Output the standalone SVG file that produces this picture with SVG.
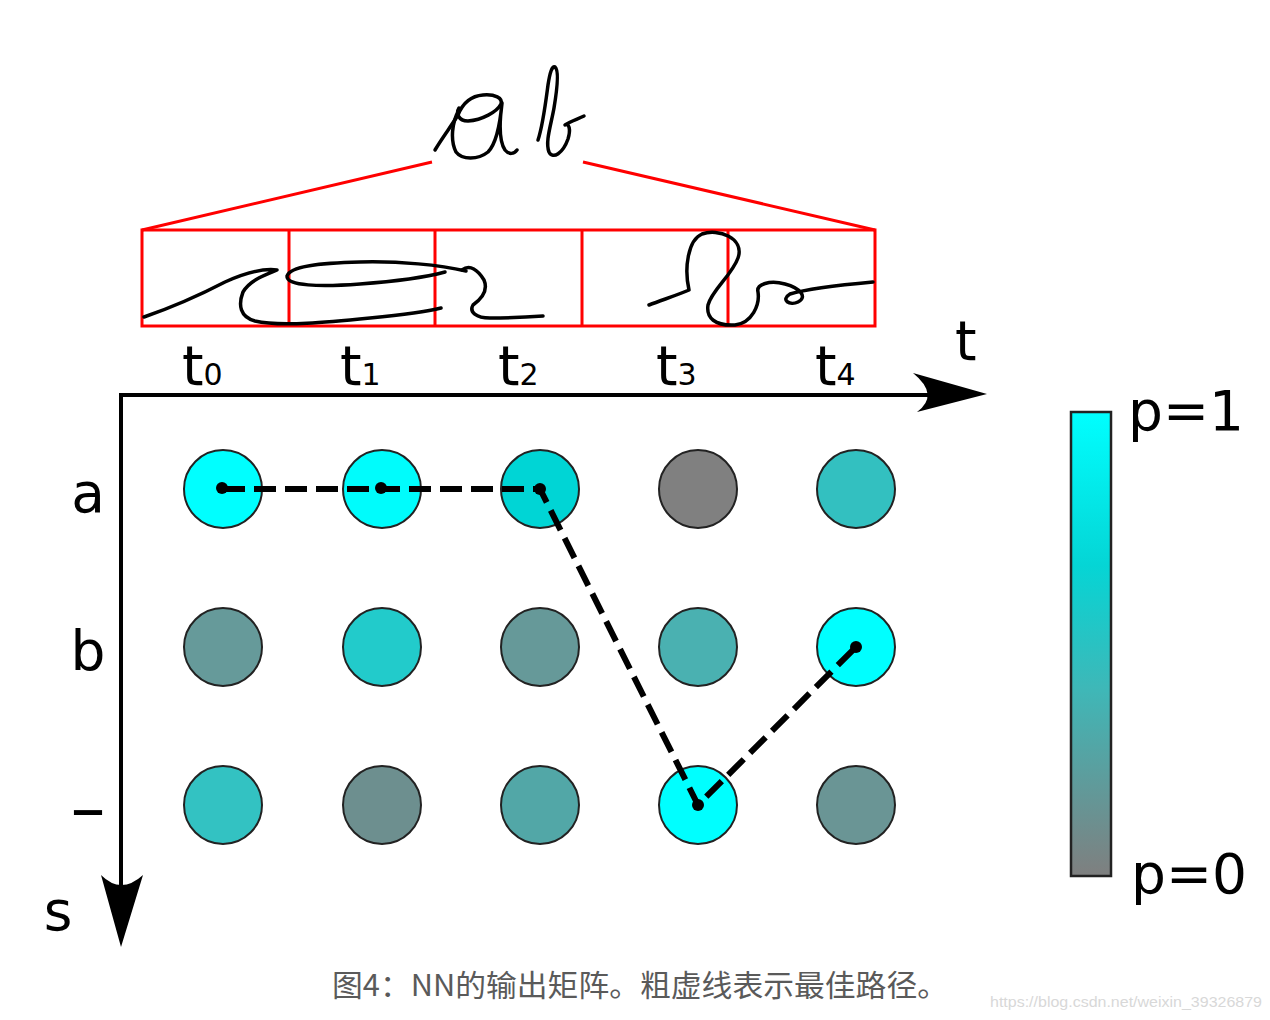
<svg xmlns="http://www.w3.org/2000/svg" width="1270" height="1020" viewBox="0 0 1270 1020">
<defs>
<linearGradient id="bar" x1="0" y1="0" x2="0" y2="1">
<stop offset="0" stop-color="#00ffff"/>
<stop offset="0.33" stop-color="#05d5d5"/>
<stop offset="0.6" stop-color="#3fb7b7"/>
<stop offset="1" stop-color="#7f7f7f"/>
</linearGradient>
</defs>
<style>
.lbl{font-family:"DejaVu Sans","Liberation Sans",sans-serif;font-size:55px;fill:#000}
.sub{font-size:30px}
.red{fill:none;stroke:#ff0000;stroke-width:3}
.ink{fill:none;stroke:#000;stroke-width:3.5;stroke-linecap:round;stroke-linejoin:round}
.node{stroke:#222;stroke-width:2}
.axis{fill:none;stroke:#000;stroke-width:4}
.path{fill:none;stroke:#000;stroke-width:6;stroke-dasharray:22 9}
.dot{fill:#000}
</style>
<rect width="1270" height="1020" fill="#fff"/>

<g id="handwriting-top">
<path class="ink" d="M435,150 C442,138 452,125 458,115 C462,105 470,96 483,95 C495,94 503,98 501,104 C497,112 482,120 468,121 C458,121 456,113 459,108"/>
<path class="ink" d="M459,110 C452,122 450,140 456,152 C462,160 478,160 488,152 C496,144 500,125 502,103 C500,118 498,140 505,150 C509,155 514,154 517,150"/>
<path class="ink" d="M538,140 C543,125 546,100 548,85 C550,72 552,66 555,67 C559,70 557,90 554,108 C551,125 545,142 549,152 C553,160 563,153 568,139 C571,129 569,123 565,125 C571,121 578,119 584,116"/>
</g>

<g id="frames">
<path class="red" d="M142,230 L432,162 M583,162 L875,230"/>
<rect class="red" x="142" y="230" width="733" height="96"/>
<path class="red" d="M289,230 V326 M435,230 V326 M582,230 V326 M728,230 V326"/>
</g>

<g id="handwriting-boxes">
<path class="ink" d="M144,317 C170,308 200,295 225,282 C245,273 262,268 277,270 C265,275 250,280 243,292 C238,305 240,317 255,321 C280,327 330,322 370,318 C400,315 425,312 441,308"/>
<path class="ink" d="M466,271 C440,265 400,261 360,262 C320,263 290,266 287,276 C286,286 320,287 360,284 C400,281 430,276 445,272"/>
<path class="ink" d="M462,270 C470,264 478,270 484,280 C489,292 480,300 473,305 C469,312 476,318 490,318 C510,318 530,317 543,316"/>
<path class="ink" d="M649,305 C665,299 680,294 689,290 C684,268 688,240 702,234 C718,228 745,238 738,258 C732,275 712,290 708,305 C706,318 715,326 735,325 C752,323 760,305 758,292 C756,284 770,280 785,284 C800,288 808,297 798,302 C790,306 780,300 790,294 C810,288 840,285 873,282"/>
</g>

<g id="axes">
<path class="axis" d="M119,395 H940"/>
<path d="M987,394 L913,373 Q940,395 917,412 Z" fill="#000"/>
<path class="axis" d="M121,393 V900"/>
<path d="M121,947 L101,875 Q121,895 143,875 Z" fill="#000"/>
</g>

<g id="labels" class="lbl">
<text x="955" y="360">t</text>
<text x="182" y="385">t<tspan class="sub">0</tspan></text>
<text x="340" y="385">t<tspan class="sub">1</tspan></text>
<text x="498" y="385">t<tspan class="sub">2</tspan></text>
<text x="656" y="385">t<tspan class="sub">3</tspan></text>
<text x="815" y="385">t<tspan class="sub">4</tspan></text>
<text x="88" y="512" text-anchor="middle">a</text>
<text x="88" y="670" text-anchor="middle">b</text>
<text x="88" y="832" text-anchor="middle" style="font-size:70px">–</text>
<text x="58" y="930" text-anchor="middle">s</text>
</g>

<g id="nodes">
<circle id="n-a0" class="node" cx="223" cy="489" r="39" fill="#00ffff"/>
<circle id="n-a1" class="node" cx="382" cy="489" r="39" fill="#00fcfc"/>
<circle id="n-a2" class="node" cx="540" cy="489" r="39" fill="#00d5d5"/>
<circle id="n-a3" class="node" cx="698" cy="489" r="39" fill="#808080"/>
<circle id="n-a4" class="node" cx="856" cy="489" r="39" fill="#33c0c0"/>
<circle id="n-b0" class="node" cx="223" cy="647" r="39" fill="#669a9a"/>
<circle id="n-b1" class="node" cx="382" cy="647" r="39" fill="#22cbcb"/>
<circle id="n-b2" class="node" cx="540" cy="647" r="39" fill="#669999"/>
<circle id="n-b3" class="node" cx="698" cy="647" r="39" fill="#4ab1b1"/>
<circle id="n-b4" class="node" cx="856" cy="647" r="39" fill="#00ffff"/>
<circle id="n-_0" class="node" cx="223" cy="805" r="39" fill="#33c2c2"/>
<circle id="n-_1" class="node" cx="382" cy="805" r="39" fill="#6d8f8f"/>
<circle id="n-_2" class="node" cx="540" cy="805" r="39" fill="#52a7a7"/>
<circle id="n-_3" class="node" cx="698" cy="805" r="39" fill="#00ffff"/>
<circle id="n-_4" class="node" cx="856" cy="805" r="39" fill="#6a9595"/>
</g>

<g id="connectors">
<path class="path" d="M223,489 L382,489 L540,489 L698,805 L856,647"/>
<circle class="dot" cx="222" cy="488" r="6"/>
<circle class="dot" cx="381" cy="488" r="6"/>
<circle class="dot" cx="540" cy="489" r="6"/>
<circle class="dot" cx="698" cy="805" r="6"/>
<circle class="dot" cx="856" cy="647" r="6"/>
</g>

<g id="colorbar">
<rect x="1071" y="412" width="40" height="464" fill="url(#bar)" stroke="#222" stroke-width="2.5"/>
<text class="lbl" x="1128" y="430">p=1</text>
<text class="lbl" x="1131" y="893">p=0</text>
</g>

<text x="332" y="996" font-family="'Noto Sans CJK SC','Noto Sans',sans-serif" font-size="30" fill="#5a5a5a" textLength="616" lengthAdjust="spacingAndGlyphs">图4：NN的输出矩阵。粗虚线表示最佳路径。</text>
<text x="990" y="1007" font-family="'Liberation Sans','Noto Sans CJK SC',sans-serif" font-size="15" fill="#d8d8d8" textLength="272" lengthAdjust="spacingAndGlyphs">https://blog.csdn.net/weixin_39326879</text>
</svg>
